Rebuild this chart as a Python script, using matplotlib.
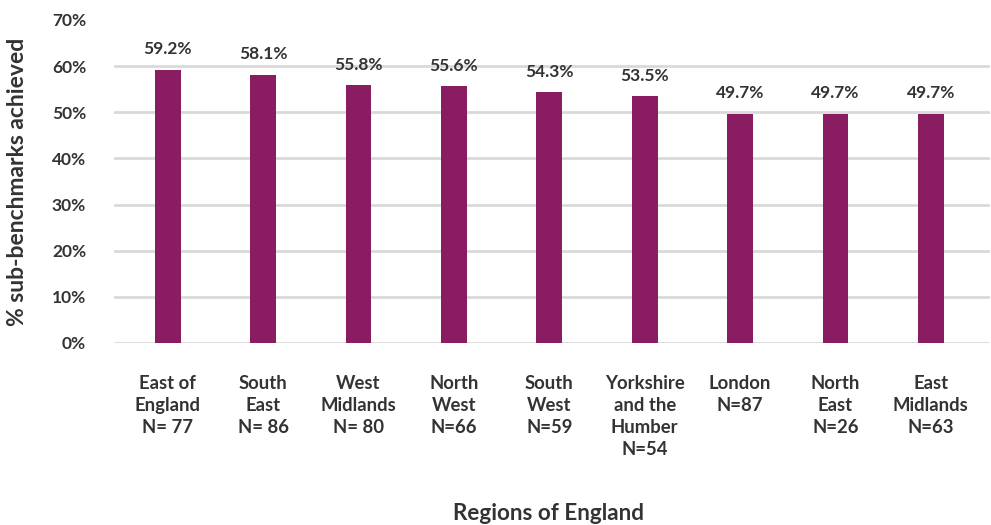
import matplotlib
matplotlib.use("Agg")
import matplotlib.pyplot as plt
from matplotlib.ticker import FuncFormatter

plt.rcParams['font.family'] = ['Lato', 'DejaVu Sans']

regions = ["East of\nEngland\nN= 77", "South\nEast\nN= 86", "West\nMidlands\nN= 80",
           "North\nWest\nN=66", "South\nWest\nN=59", "Yorkshire\nand the\nHumber\nN=54",
           "London\nN=87", "North\nEast\nN=26", "East\nMidlands\nN=63"]
values = [59.2, 58.1, 55.8, 55.6, 54.3, 53.5, 49.7, 49.7, 49.7]
yticks = [0, 10, 20, 30, 40, 50, 60, 70]

text_color = "#333333"
bar_color = "#8A1C62"
grid_color = "#D9D9D9"

fig = plt.figure(figsize=(9.91, 5.25), dpi=100)
ax = fig.add_axes([0.115, 0.3467, 0.884, 0.6153])

x = list(range(len(regions)))
bars = ax.bar(x, values, width=0.27, color=bar_color, zorder=3)

for xi, v in zip(x, values):
    ax.annotate(f"{v:.1f}%", (xi, v), xytext=(0, 9), textcoords="offset points",
                ha="center", va="bottom", fontsize=12.5, fontweight="bold", color=text_color)

ax.set_xlim(-0.563, 8.62)
ax.set_ylim(0, 70)
ax.set_yticks(yticks)
ax.yaxis.set_major_formatter(FuncFormatter(lambda v, p: f"{v:.0f}%"))
ax.set_xticks(x)
ax.set_xticklabels(regions, fontsize=13.3, fontweight="bold", color=text_color,
                   linespacing=1.37, va="top", ha="center")
ax.tick_params(axis="x", length=0, pad=23)
ax.tick_params(axis="y", length=0, pad=20, labelsize=12.5, labelcolor=text_color)
for lab in ax.get_yticklabels():
    lab.set_fontweight("bold")

ax.grid(axis="y", color=grid_color, linewidth=2, zorder=0)
ax.get_ygridlines()[-1].set_visible(False)
for s in ax.spines.values():
    s.set_visible(False)

ax.set_ylabel("% sub-benchmarks achieved", fontsize=16.5, fontweight="bold",
              color=text_color)
ax.yaxis.set_label_coords(-0.098, 0.5)
fig.text(0.553, 0.022, "Regions of England", ha="center", va="center",
         fontsize=16.2, fontweight="bold", color=text_color)

fig.savefig("out.png", dpi=100)
